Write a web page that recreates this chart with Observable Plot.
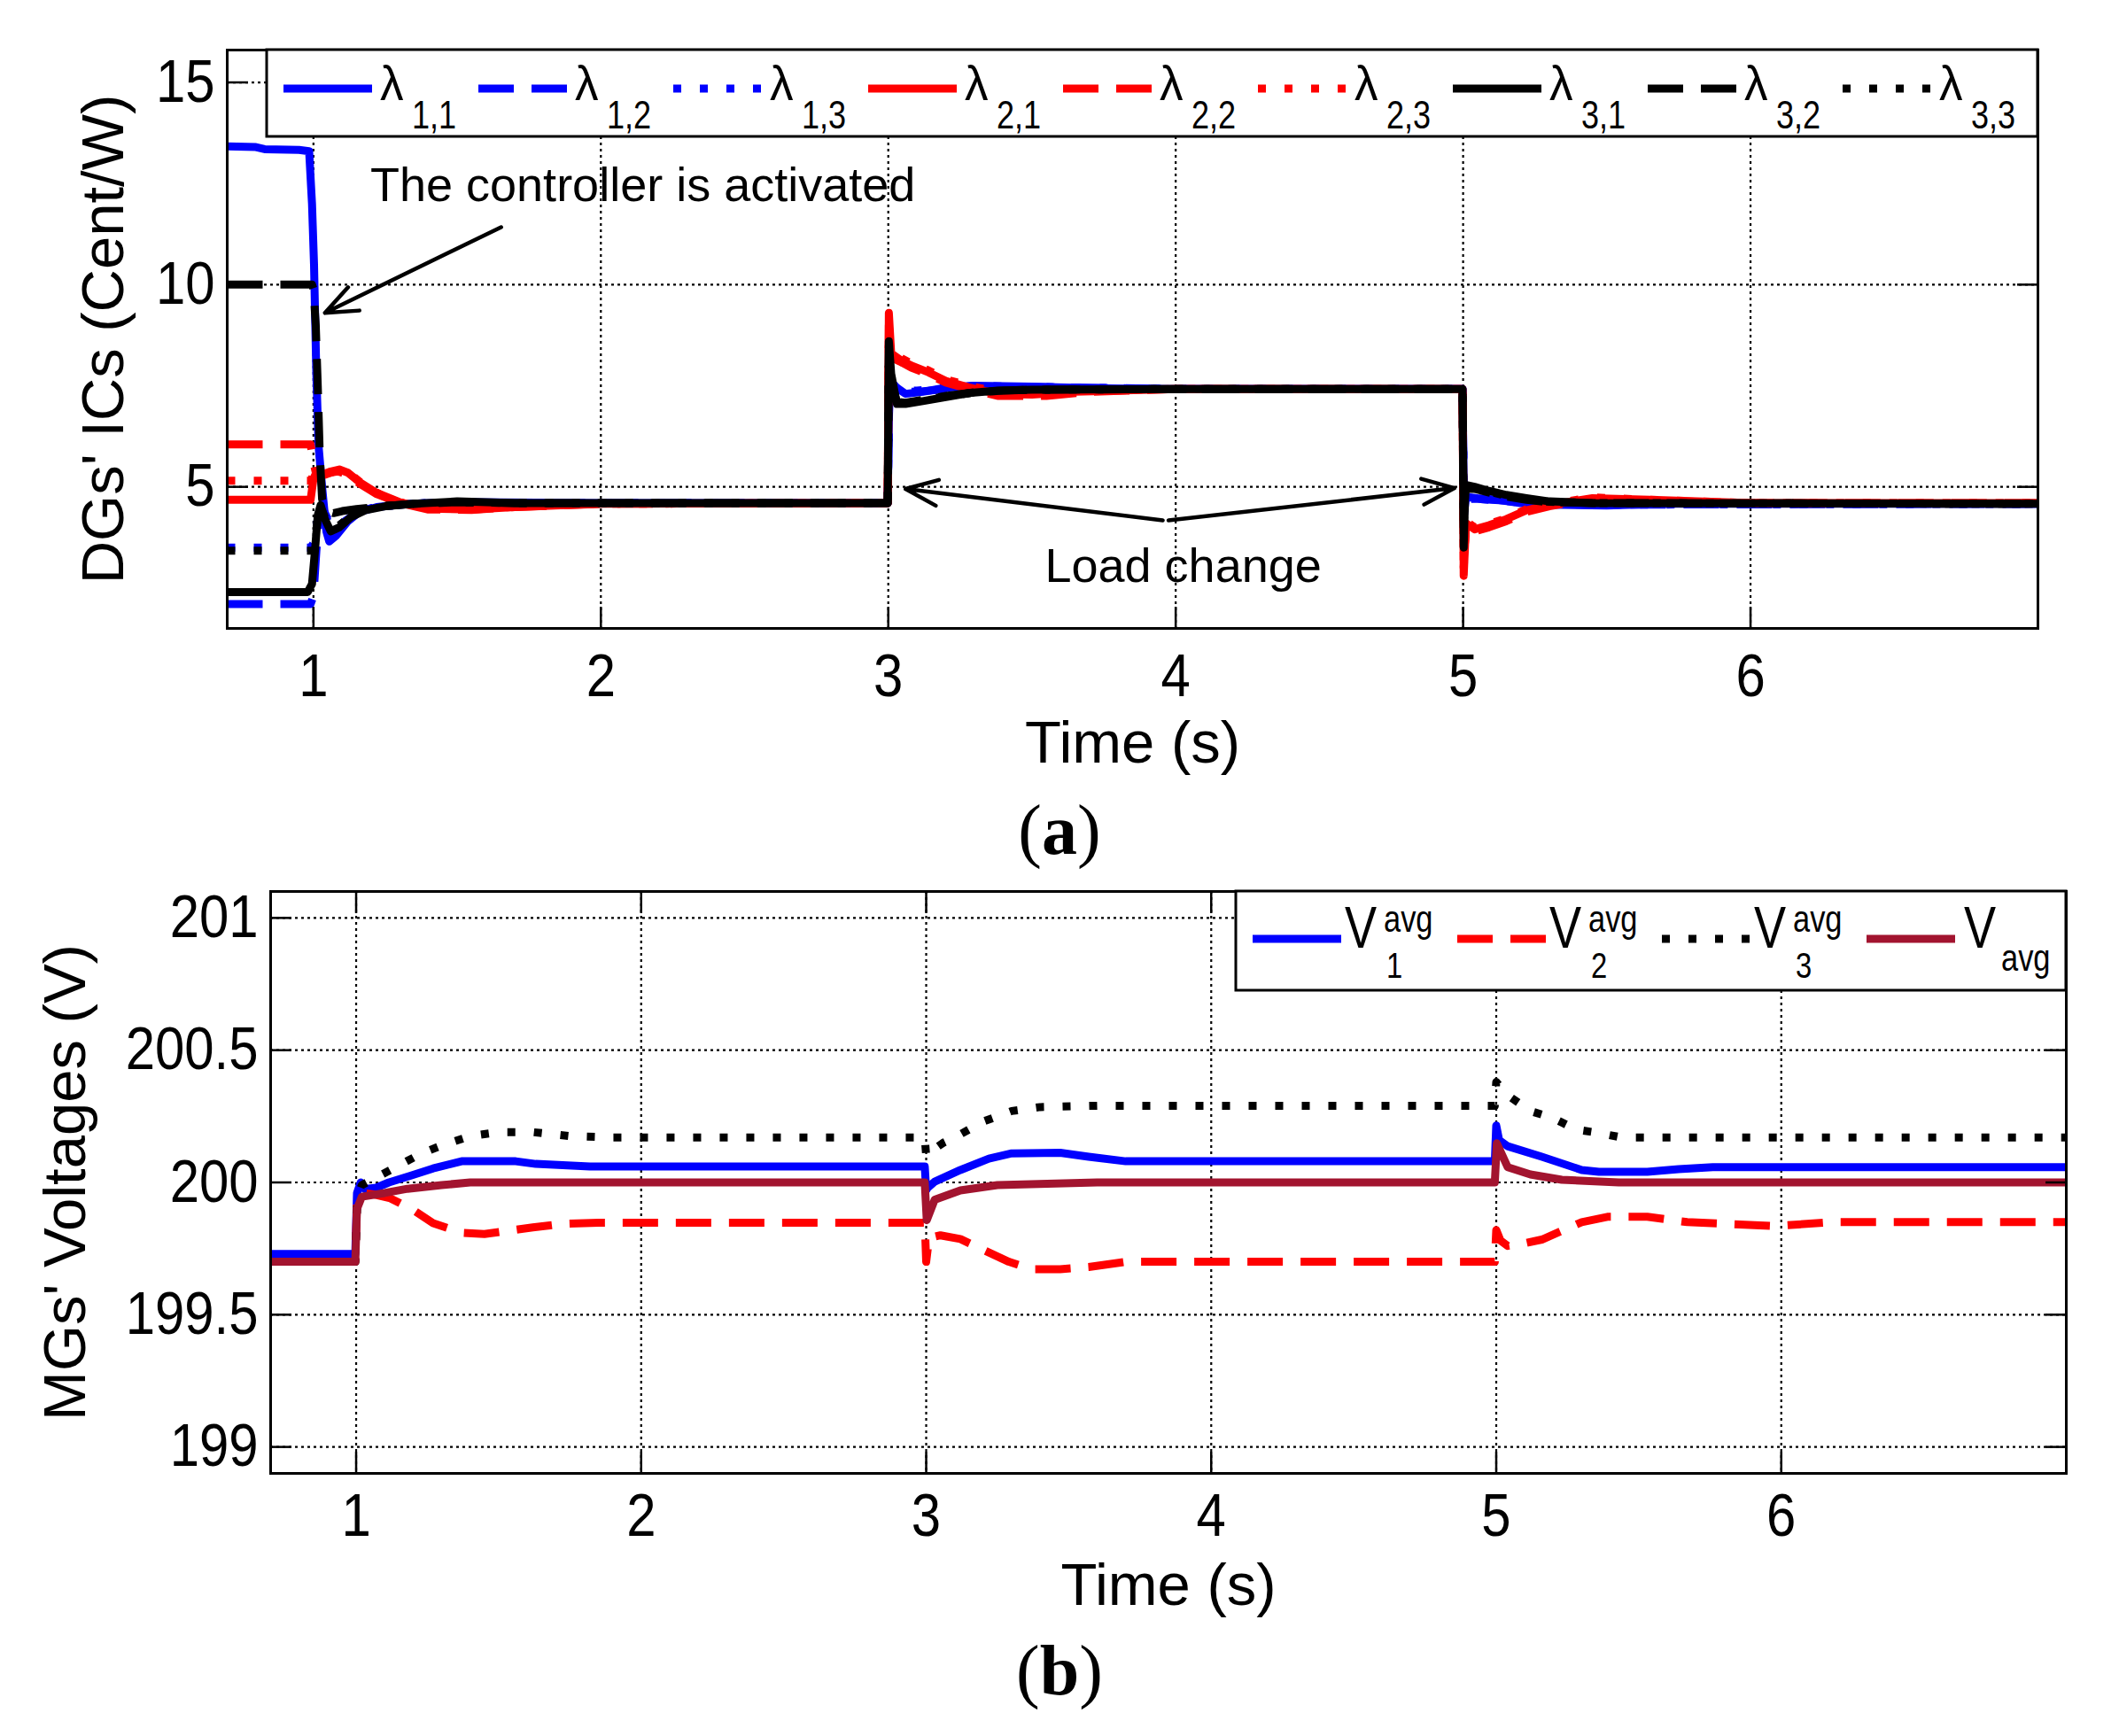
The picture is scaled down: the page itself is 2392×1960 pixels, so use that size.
<!DOCTYPE html>
<html><head><meta charset="utf-8">
<script src="https://cdn.jsdelivr.net/npm/d3@7"></script>
<script src="https://cdn.jsdelivr.net/npm/@observablehq/plot@0.6"></script>
<style>
body{margin:0;background:#fff}
#root{position:relative;width:2392px;height:1960px;background:#fff;overflow:hidden}
</style>
</head><body><div id="root"></div>
<script>
// ---------------- DATA ----------------
const xTicks = [1, 2, 3, 4, 5, 6];
const yTicksA = [5, 10, 15];
const yTicksB = [199, 199.5, 200, 200.5, 201];

// Panel (a): DGs' incremental costs, [time s, cent/W]
const lam11 = [[0.70,13.42],[0.80,13.40],[0.83,13.35],[0.95,13.33],[0.985,13.30],[0.995,12.0],[1.002,10.5],[1.01,7.8],[1.018,6.0],[1.03,5.0],[1.045,3.9],[1.055,3.65],[1.08,3.8],[1.12,4.15],[1.16,4.38],[1.22,4.5],[1.30,4.56],[1.40,4.6],[1.55,4.62],[2.00,4.6],[2.998,4.6],[3.003,7.1],[3.01,7.6],[3.03,7.45],[3.06,7.3],[3.12,7.35],[3.20,7.45],[3.30,7.5],[3.50,7.48],[3.70,7.44],[4.00,7.42],[4.998,7.42],[5.003,4.3],[5.01,4.75],[5.05,4.72],[5.12,4.68],[5.20,4.6],[5.30,4.56],[5.50,4.54],[5.70,4.58],[7.00,4.58]];
const lam12 = [[0.70,2.1],[0.99,2.1],[1.00,2.3],[1.01,3.4],[1.02,4.3],[1.03,4.5],[1.05,4.2],[1.08,4.0],[1.12,4.2],[1.16,4.4],[1.22,4.5],[1.30,4.56],[1.40,4.6],[2.00,4.6],[2.998,4.6],[3.003,7.0],[3.01,7.5],[3.04,7.35],[3.10,7.35],[3.20,7.42],[3.30,7.48],[3.50,7.47],[4.00,7.42],[4.998,7.42],[5.003,4.4],[5.01,4.7],[5.05,4.7],[5.15,4.66],[5.25,4.58],[5.50,4.56],[7.00,4.58]];
const lam13 = [[0.70,3.5],[0.99,3.5],[1.00,3.6],[1.01,4.0],[1.02,4.4],[1.03,4.5],[1.05,4.15],[1.08,4.0],[1.12,4.2],[1.16,4.4],[1.22,4.5],[1.30,4.56],[1.40,4.6],[2.00,4.6],[2.998,4.6],[3.003,7.1],[3.01,7.5],[3.04,7.38],[3.10,7.38],[3.20,7.45],[3.30,7.5],[3.50,7.47],[4.00,7.42],[4.998,7.42],[5.003,4.5],[5.01,4.72],[5.05,4.7],[5.15,4.65],[5.25,4.58],[5.50,4.56],[7.00,4.58]];
const lam21 = [[0.70,4.68],[0.99,4.68],[1.00,5.2],[1.01,5.35],[1.03,5.3],[1.06,5.38],[1.09,5.43],[1.12,5.35],[1.16,5.12],[1.22,4.85],[1.30,4.62],[1.40,4.46],[1.55,4.44],[1.70,4.5],[2.00,4.58],[2.998,4.6],[3.002,9.3],[3.01,8.3],[3.04,8.15],[3.08,8.0],[3.14,7.83],[3.20,7.62],[3.28,7.46],[3.38,7.3],[3.50,7.28],[3.65,7.35],[4.00,7.42],[4.998,7.42],[5.002,2.8],[5.01,4.1],[5.04,3.95],[5.09,4.05],[5.15,4.2],[5.22,4.42],[5.30,4.55],[5.45,4.72],[5.65,4.68],[6.00,4.6],[7.00,4.6]];
const lam22 = [[0.70,6.05],[0.99,6.05],[1.00,5.6],[1.01,5.3],[1.04,5.3],[1.08,5.4],[1.12,5.3],[1.16,5.08],[1.22,4.82],[1.30,4.6],[1.40,4.44],[1.55,4.43],[1.70,4.5],[2.00,4.58],[2.998,4.6],[3.002,9.0],[3.01,8.2],[3.04,8.1],[3.08,7.95],[3.14,7.78],[3.20,7.58],[3.28,7.42],[3.38,7.25],[3.55,7.25],[3.70,7.35],[4.00,7.42],[4.998,7.42],[5.002,3.2],[5.01,4.0],[5.04,3.9],[5.09,4.0],[5.15,4.15],[5.22,4.38],[5.30,4.52],[5.45,4.7],[5.65,4.66],[6.00,4.6],[7.00,4.6]];
const lam23 = [[0.70,5.15],[0.99,5.15],[1.00,5.3],[1.02,5.3],[1.06,5.35],[1.10,5.4],[1.14,5.25],[1.18,5.02],[1.24,4.78],[1.32,4.58],[1.42,4.46],[1.60,4.46],[1.80,4.55],[2.00,4.58],[2.998,4.6],[3.002,8.8],[3.01,8.25],[3.04,8.2],[3.08,8.05],[3.14,7.88],[3.20,7.66],[3.28,7.5],[3.38,7.35],[3.50,7.32],[3.70,7.38],[4.00,7.42],[4.998,7.42],[5.002,3.0],[5.01,4.15],[5.04,4.0],[5.09,4.08],[5.15,4.22],[5.22,4.45],[5.30,4.57],[5.45,4.74],[5.65,4.68],[6.00,4.6],[7.00,4.6]];
const lam31 = [[0.70,2.4],[0.98,2.4],[0.995,2.6],[1.005,3.4],[1.015,4.3],[1.025,4.55],[1.04,4.2],[1.06,3.9],[1.09,4.0],[1.13,4.25],[1.18,4.42],[1.25,4.52],[1.35,4.58],[1.50,4.64],[1.70,4.6],[2.998,4.6],[3.002,8.6],[3.01,7.8],[3.03,7.05],[3.06,7.05],[3.12,7.12],[3.20,7.22],[3.28,7.32],[3.38,7.38],[3.50,7.4],[4.00,7.42],[4.998,7.42],[5.002,3.5],[5.008,5.05],[5.04,5.0],[5.09,4.9],[5.15,4.8],[5.22,4.72],[5.30,4.64],[5.45,4.6],[7.00,4.58]];
const lam32 = [[0.70,10.0],[0.995,10.0],[1.00,9.9],[1.008,9.0],[1.015,7.5],[1.022,5.8],[1.03,4.7],[1.045,4.4],[1.07,4.35],[1.10,4.4],[1.15,4.45],[1.25,4.53],[1.35,4.58],[1.50,4.62],[1.70,4.6],[2.998,4.6],[3.002,8.3],[3.01,7.6],[3.03,7.1],[3.06,7.08],[3.12,7.15],[3.20,7.25],[3.30,7.34],[3.40,7.38],[3.50,7.4],[4.00,7.42],[4.998,7.42],[5.002,4.0],[5.008,4.95],[5.04,4.95],[5.09,4.86],[5.15,4.76],[5.22,4.68],[5.30,4.62],[5.45,4.6],[7.00,4.58]];
const lam33 = [[0.70,3.42],[0.995,3.42],[1.005,3.7],[1.015,4.2],[1.025,4.5],[1.04,4.25],[1.06,4.0],[1.09,4.05],[1.13,4.28],[1.18,4.44],[1.25,4.53],[1.35,4.58],[1.50,4.62],[1.70,4.6],[2.998,4.6],[3.002,8.0],[3.01,7.5],[3.03,7.08],[3.06,7.07],[3.12,7.14],[3.20,7.24],[3.30,7.33],[3.40,7.38],[3.50,7.4],[4.00,7.42],[4.998,7.42],[5.002,4.2],[5.008,4.98],[5.04,4.96],[5.09,4.88],[5.15,4.78],[5.22,4.7],[5.30,4.63],[5.45,4.6],[7.00,4.58]];

// Panel (b): MGs' voltages, [time s, V]
const v1 = [[0.70,199.73],[0.997,199.73],[1.003,199.96],[1.016,200.0],[1.03,199.975],[1.07,199.98],[1.115,200.0],[1.19,200.025],[1.27,200.053],[1.37,200.08],[1.56,200.08],[1.63,200.07],[1.82,200.06],[2.995,200.06],[3.00,199.97],[3.005,199.98],[3.03,200.003],[3.12,200.047],[3.22,200.09],[3.30,200.11],[3.47,200.112],[3.57,200.097],[3.70,200.08],[4.995,200.08],[5.00,200.215],[5.01,200.16],[5.04,200.137],[5.16,200.097],[5.30,200.047],[5.36,200.04],[5.53,200.04],[5.64,200.05],[5.76,200.058],[7.00,200.058]];
const v2 = [[0.70,199.70],[0.997,199.70],[1.003,199.93],[1.02,199.96],[1.06,199.955],[1.12,199.94],[1.20,199.896],[1.27,199.846],[1.37,199.81],[1.45,199.805],[1.52,199.815],[1.62,199.83],[1.72,199.843],[1.85,199.848],[2.995,199.848],[3.00,199.70],[3.01,199.79],[3.05,199.80],[3.12,199.786],[3.20,199.745],[3.29,199.70],[3.37,199.672],[3.47,199.672],[3.57,199.68],[3.70,199.70],[4.995,199.70],[5.00,199.82],[5.015,199.78],[5.04,199.76],[5.10,199.77],[5.16,199.784],[5.30,199.85],[5.39,199.87],[5.53,199.87],[5.67,199.85],[5.98,199.835],[6.18,199.85],[7.00,199.85]];
const v3 = [[0.70,199.70],[0.997,199.70],[1.005,199.95],[1.02,199.99],[1.09,200.03],[1.16,200.07],[1.23,200.11],[1.30,200.14],[1.40,200.175],[1.50,200.19],[1.62,200.19],[1.75,200.175],[1.90,200.17],[2.995,200.17],[3.00,200.10],[3.02,200.12],[3.06,200.15],[3.10,200.17],[3.20,200.23],[3.30,200.27],[3.40,200.285],[3.60,200.29],[4.995,200.29],[5.00,200.38],[5.04,200.33],[5.12,200.27],[5.20,200.243],[5.28,200.2],[5.36,200.187],[5.44,200.17],[7.00,200.17]];
const vavg = [[0.70,199.70],[0.997,199.70],[1.003,199.9],[1.02,199.946],[1.10,199.96],[1.18,199.976],[1.30,199.99],[1.40,200.0],[2.995,200.0],[3.002,199.857],[3.03,199.935],[3.12,199.97],[3.25,199.99],[3.60,200.0],[4.995,200.0],[5.002,200.148],[5.04,200.058],[5.12,200.03],[5.23,200.01],[5.43,200.0],[7.00,200.0]];

// Series labels (legend), axis titles and annotation content
const namesA = ["1,1","1,2","1,3","2,1","2,2","2,3","3,1","3,2","3,3"];
const dataA = [lam11, lam12, lam13, lam21, lam22, lam23, lam31, lam32, lam33];
const namesB = [["1","avg"],["2","avg"],["3","avg"],["avg",null]];
const dataB = [v1, v2, v3, vavg];
const xTitle = "Time (s)";
const yTitleA = "DGs' ICs (Cent/W)";
const yTitleB = "MGs' Voltages (V)";
const notesA = [
  {t: 2.146, v: 12.45, label: "The controller is activated"},
  {t: 4.026, v: 3.02, label: "Load change"}
];
const arrowsA = [
  {t1: 1.653, v1: 11.42, t2: 1.04, v2: 9.3},
  {t1: 3.955, v1: 4.17, t2: 3.06, v2: 4.95},
  {t1: 3.975, v1: 4.17, t2: 4.97, v2: 4.97}
];

// ---------------- STYLES ----------------
const colorsA = ["#0000ff","#0000ff","#0000ff","#ff0000","#ff0000","#ff0000","#000000","#000000","#000000"];
const dashesA = ["none","40,20","9,21","none","40,20","9,21","none","40,20","9,21"];
const colorsB = ["#0000ff","#ff0000","#000000","#a2142f"];
const dashesB = ["none","40,20","9,21","none"];

const FR = "'Liberation Sans', Arial, Helvetica, sans-serif";
const TICK = 68, TICK_SX = 0.88, TITLE = 67;
const LW = 9;

const root = document.getElementById("root");

function panel({data, colors, dashes, yDomain, yTicks, mt, mb, ml, mr, xTitleDy, xPad, extra}) {
  const lines = data.map((d, i) => Plot.line(d, {
    x: p => p[0], y: p => p[1], stroke: colors[i], strokeWidth: LW,
    strokeDasharray: dashes[i], strokeLinecap: "butt", strokeLinejoin: "round", clip: true
  }));
  const grid = {stroke: "#000", strokeOpacity: 1, strokeWidth: 2.2, strokeDasharray: "3,4"};
  return Plot.plot({
    width: 2392, height: 880,
    marginTop: mt, marginBottom: mb, marginLeft: ml, marginRight: mr,
    x: {domain: [0.7, 7]}, y: {domain: yDomain},
    style: {fontFamily: FR, color: "#000", background: "transparent", overflow: "visible"},
    marks: [
      Plot.gridX(xTicks, grid),
      Plot.gridY(yTicks, grid),
      ...lines,
      ...(extra || []),
      Plot.frame({stroke: "#000", strokeWidth: 3}),
      Plot.axisX(xTicks, {anchor: "bottom", tickSize: -24, tickPadding: xPad, fontSize: TICK, label: null, strokeWidth: 2.5, tickFormat: d => String(d)}),
      Plot.axisX(xTicks, {anchor: "top", tickSize: -24, label: null, strokeWidth: 2.5, tickFormat: () => ""}),
      Plot.axisY(yTicks, {anchor: "left", tickSize: -24, tickPadding: 38, fontSize: TICK, label: null, strokeWidth: 2.5, tickFormat: d => String(d)}),
      Plot.axisY(yTicks, {anchor: "right", tickSize: -24, label: null, strokeWidth: 2.5, tickFormat: () => ""}),
      Plot.text([xTitle], {text: d => d, frameAnchor: "bottom", dy: xTitleDy, lineAnchor: "middle", fontSize: TITLE, fill: "#000"})
    ]
  });
}

function narrowTicks(svg) {
  d3.select(svg).selectAll('g[aria-label="x-axis tick label"] text, g[aria-label="y-axis tick label"] text')
    .each(function () {
      const tr = this.getAttribute("transform") || "";
      this.setAttribute("transform", tr + ` scale(${TICK_SX},1)`);
    });
}

const annA = [
  Plot.arrow(arrowsA, {x1: "t1", y1: "v1", x2: "t2", y2: "v2", stroke: "#000", strokeWidth: 4.5, headLength: 13, headAngle: 44}),
  Plot.text(notesA, {x: "t", y: "v", text: "label", fontFamily: FR, fontSize: 54, fill: "#000", lineAnchor: "middle"})
];

const chartA = panel({data: dataA, colors: colorsA, dashes: dashesA, yDomain: [1.5, 15.8], yTicks: yTicksA,
  mt: 56, mb: 171, ml: 256, mr: 92, xTitleDy: 130, xPad: 52, extra: annA});
chartA.style.position = "absolute"; chartA.style.left = "0px"; chartA.style.top = "0px";
root.appendChild(chartA);
narrowTicks(chartA);

const chartB = panel({data: dataB, colors: colorsB, dashes: dashesB, yDomain: [198.9, 201.1], yTicks: yTicksB,
  mt: 46, mb: 177, ml: 305, mr: 60, xTitleDy: 127, xPad: 46});
chartB.style.position = "absolute"; chartB.style.left = "0px"; chartB.style.top = "960px";
root.appendChild(chartB);
narrowTicks(chartB);

// ---------------- Y TITLES, LEGENDS & CAPTIONS (overlay) ----------------
const ov = d3.select(root).append("svg")
  .attr("width", 2392).attr("height", 1960)
  .style("position", "absolute").style("left", "0px").style("top", "0px");

[[yTitleA, 116, 383], [yTitleB, 73, 1335]].forEach(([s, x, y]) => {
  ov.append("text").attr("transform", `translate(${x},${y}) rotate(-90)`)
    .attr("text-anchor", "middle").attr("dy", "0.35em")
    .attr("font-family", FR).attr("font-size", TITLE).attr("fill", "#000").text(s);
});

function ntext(g, x, y, size, s, sx) {
  return g.append("text").attr("transform", `translate(${x},${y}) scale(${sx},1)`)
    .attr("font-family", FR).attr("font-size", size).attr("fill", "#000").text(s);
}

// legend (a)
const la = ov.append("g");
la.append("rect").attr("x", 301).attr("y", 56).attr("width", 1999).attr("height", 98)
  .attr("fill", "#fff").attr("stroke", "#000").attr("stroke-width", 3);
namesA.forEach((nm, i) => {
  const x0 = 320 + i * 220;
  la.append("line").attr("x1", x0).attr("x2", x0 + 100).attr("y1", 100).attr("y2", 100)
    .attr("stroke", colorsA[i]).attr("stroke-width", LW)
    .attr("stroke-dasharray", dashesA[i] === "none" ? null : dashesA[i]);
  ntext(la, x0 + 109, 113, 56, "λ", 0.95);
  ntext(la, x0 + 145, 145, 44, nm, 0.82);
});

// legend (b)
const lb = ov.append("g");
lb.append("rect").attr("x", 1395).attr("y", 1006).attr("width", 937).attr("height", 112)
  .attr("fill", "#fff").attr("stroke", "#000").attr("stroke-width", 3);
namesB.forEach(([sub, sup], i) => {
  const x0 = 1414 + i * 231;
  lb.append("line").attr("x1", x0).attr("x2", x0 + 100).attr("y1", 1060).attr("y2", 1060)
    .attr("stroke", colorsB[i]).attr("stroke-width", LW)
    .attr("stroke-dasharray", dashesB[i] === "none" ? null : dashesB[i]);
  if (sup) {
    ntext(lb, x0 + 104, 1070, 66, "V", 0.82);
    ntext(lb, x0 + 148, 1052, 42, sup, 0.82);
    ntext(lb, x0 + 151, 1104, 40, sub, 0.82);
  } else {
    ntext(lb, x0 + 110, 1070, 66, "V", 0.82);
    ntext(lb, x0 + 152, 1096, 42, sub, 0.82);
  }
});

// captions
[["a", 964], ["b", 1913]].forEach(([c, y]) => {
  const t = ov.append("text").attr("x", 1196).attr("y", y).attr("text-anchor", "middle")
    .attr("font-family", "'Liberation Serif', 'Times New Roman', serif").attr("font-size", 80).attr("fill", "#000");
  t.append("tspan").text("(");
  t.append("tspan").attr("font-weight", "bold").text(c);
  t.append("tspan").text(")");
});
</script>
</body></html>
